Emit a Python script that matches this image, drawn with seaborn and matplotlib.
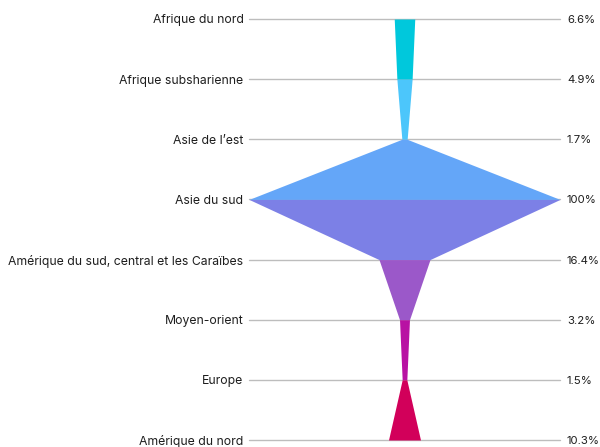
import matplotlib
matplotlib.use("Agg")
import matplotlib.pyplot as plt
import seaborn as sns

regions = ["Afrique du nord", "Afrique subsharienne", "Asie de l\u2019est", "Asie du sud",
           "Am\u00e9rique du sud, central et les Cara\u00efbes", "Moyen-orient", "Europe",
           "Am\u00e9rique du nord"]
values = [6.6, 4.9, 1.7, 100, 16.4, 3.2, 1.5, 10.3]
value_labels = ["6.6%", "4.9%", "1.7%", "100%", "16.4%", "3.2%", "1.5%", "10.3%"]
segment_colors = ["#00c8dc", "#4cc6fb", "#64a6f8", "#7c80e6", "#9b58c9", "#b812a3", "#d2005a"]

sns.set_theme(style="white")
plt.rcParams["font.family"] = ["Inter", "DejaVu Sans"]

W, H = 600, 447
fig = plt.figure(figsize=(W / 100, H / 100), dpi=100)
# axes spans exactly the 100% width and first/last level
ax = fig.add_axes([249 / W, (H - 440) / H, 311 / W, 421 / H])

n = len(values)
ax.set_xlim(-50, 50)
ax.set_ylim(n - 1, 0)

# grid lines at every level
for i in range(n):
    ax.axhline(i, color="#bdbdbd", lw=1.0, zorder=0, clip_on=False)

# trapezoids between consecutive levels
for i in range(n - 1):
    a, b = values[i] / 2, values[i + 1] / 2
    ax.fill_betweenx([i, i + 1], [-a, -b], [a, b], color=segment_colors[i],
                     lw=0, zorder=2)

ax.set_yticks(range(n))
ax.set_yticklabels(regions)
ax.set_xticks([])
ax.tick_params(axis="y", length=0, pad=4, labelsize=8.8, labelcolor="#1e1e1e")

ax2 = ax.twinx()
ax2.set_ylim(n - 1, 0)
ax2.set_yticks(range(n))
ax2.set_yticklabels(value_labels)
ax2.tick_params(axis="y", length=0, pad=5, labelsize=8.2, labelcolor="#1e1e1e")

for a_ in (ax, ax2):
    for s in a_.spines.values():
        s.set_visible(False)

fig.savefig("out.png", dpi=100)
